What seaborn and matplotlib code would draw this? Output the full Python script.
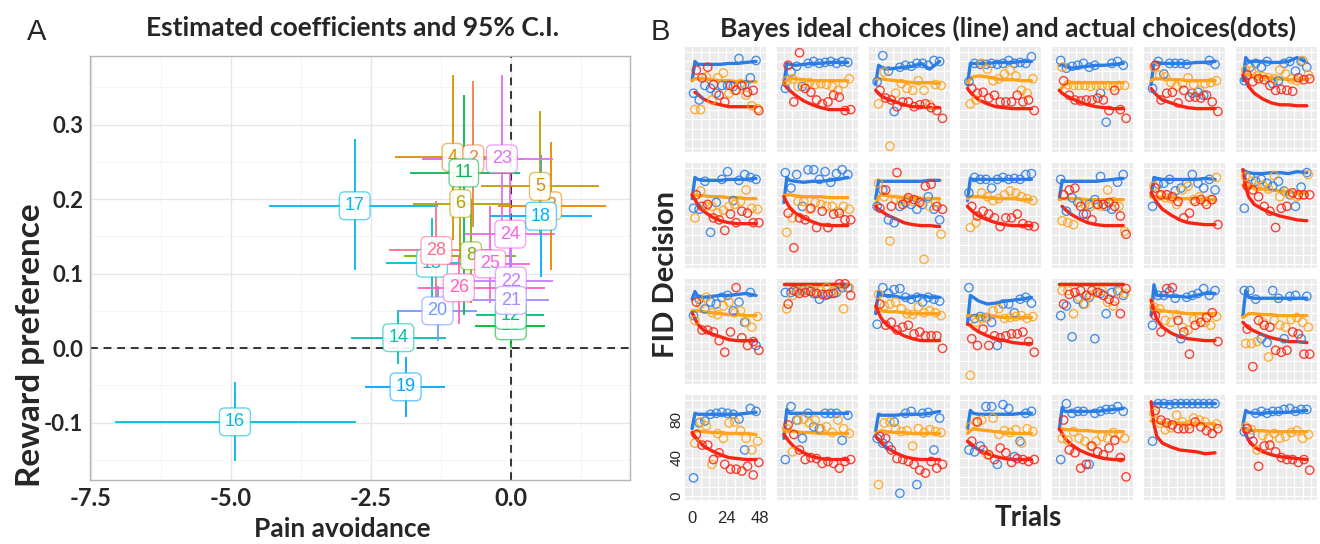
import numpy as np
import matplotlib.pyplot as plt
import seaborn as sns

nan = np.nan

# ---------------- panel A: coefficients and 95% C.I. ----------------
SUBJECTS = ["16", "17", "19", "14", "20", "15", "28", "8", "26", "25", "24",
            "10", "12", "22", "21", "3", "18", "5", "4", "2", "23", "11", "6"]
PAIN = [-4.93, -2.79, -1.88, -2.01, -1.31, -1.41, -1.33, -0.71, -0.93, -0.37, -0.01,
        0.0, 0.0, 0.0, 0.0, 0.72, 0.54, 0.52, -1.04, -0.67, -0.16, -0.84, -0.90]
PAIN_LO = [-7.08, -4.33, -2.60, -2.86, -2.03, -2.23, -2.18, -1.90, -1.66, -1.15, -0.82,
           -0.64, -0.63, -0.78, -1.08, -0.23, -0.38, -0.53, -2.07, -1.59, -1.59, -1.81, -1.74]
PAIN_HI = [-2.76, -1.30, -1.17, -1.15, -0.60, -0.90, -0.34, 0.10, 0.61, 0.35, 0.79,
           0.61, 0.60, 0.75, 0.68, 1.71, 1.45, 1.58, 0.13, 0.24, 0.75, 0.17, -0.01]
REWARD = [-0.099, 0.191, -0.052, 0.014, 0.050, 0.114, 0.131, 0.124, 0.081, 0.113, 0.153,
          0.030, 0.044, 0.090, 0.064, 0.191, 0.177, 0.217, 0.256, 0.254, 0.254, 0.235, 0.194]
REWARD_LO = [-0.151, 0.105, -0.093, -0.021, 0.009, 0.050, 0.061, 0.060, 0.033, 0.061, 0.070,
             0.000, 0.010, 0.030, 0.010, 0.105, 0.096, 0.154, 0.145, 0.163, 0.150, 0.045, 0.120]
REWARD_HI = [-0.045, 0.280, -0.012, 0.051, 0.084, 0.175, 0.198, 0.200, 0.125, 0.191, 0.240,
             0.070, 0.090, 0.160, 0.120, 0.277, 0.259, 0.318, 0.366, 0.359, 0.366, 0.340, 0.270]

# ---------------- panel B: Bayes ideal vs actual choices ----------------
LINE_X = [0, 2, 4, 8, 14, 20, 26, 32, 38, 45]
BLUE_DOT_X = [1, 5, 9, 13, 17, 21, 25, 29, 33, 37, 41, 45]
ORANGE_DOT_X = [2, 6, 10, 14, 18, 22, 26, 30, 34, 38, 42, 46]
RED_DOT_X = [3, 7, 11, 15, 19, 23, 27, 31, 35, 39, 43, 47]

BLUE_LINE = [
    [70, 90, 87, 87, 87, 87, 88, 88, 89, 90], [66, 88, 87, 86, 87, 88, 88, 89, 89, 89],
    [67, 86, 84, 82, 83, 84, 85, 88, 82, 90], [66, 88, 88, 88, 88, 89, 89, 89, 90, 90],
    [86, 87, 85, 83, 84, 85, 86, 86, 87, 88], [66, 89, 89, 88, 88, 88, 88, 89, 89, 90],
    [70, 94, 90, 90, 90, 89, 89, 90, 94, 89],
    [68, 90, 88, 87, 87, 87, 88, 88, 88, 89], [64, 90, 87, 86, 85, 86, 86, 87, 88, 90],
    [68, 87, 86, 86, 86, 86, 86, 86, 87, 87], [66, 89, 88, 88, 88, 88, 88, 88, 88, 88],
    [68, 87, 86, 86, 86, 86, 86, 87, 88, 89], [70, 90, 89, 88, 88, 88, 88, 88, 89, 88],
    [98, 96, 95, 94, 94, 95, 95, 94, 96, 95],
    [84, 92, 87, 86, 87, 88, 88, 89, 90, 88], [100, 100, 100, 100, 100, 100, 100, 100, 100, 100],
    [69, 92, 88, 88, 87, 85, 86, 88, 86, 86], [58, 88, 86, 82, 79, 80, 82, 83, 84, 86],
    [100, 100, 100, 100, 100, 100, 100, 100, 100, 100], [67, 99, 88, 88, 87, 87, 86, 88, 90, 90],
    [67, 93, 86, 85, 85, 85, 85, 85, 85, 85],
    [70, 86, 85, 85, 85, 85, 85, 85, 86, 87], [60, 90, 86, 86, 86, 86, 86, 86, 86, 86],
    [68, 85, 84, 84, 84, 85, 85, 85, 86, 88], [70, 89, 86, 85, 85, 85, 85, 85, 86, 86],
    [69, 92, 88, 88, 88, 88, 88, 89, 90, 91], [97, 97, 97, 97, 97, 97, 97, 97, 97, 97],
    [74, 89, 87, 86, 86, 87, 87, 87, 88, 89],
]
ORANGE_LINE = [
    [70, 72, 72, 72, 71, 70, 70, 69, 69, 69], [67, 70, 72, 72, 71, 70, 70, 70, 70, 70],
    [72, 72, 72, 71, 70, 69, 68, 68, 68, 67], [68, 72, 74, 75, 74, 72, 71, 71, 70, 70],
    [60, 63, 66, 68, 68, 68, 68, 68, 68, 68], [70, 72, 72, 72, 71, 71, 70, 70, 70, 70],
    [76, 76, 76, 75, 74, 73, 72, 71, 71, 71],
    [72, 72, 71, 71, 70, 70, 69, 69, 68, 68], [71, 72, 72, 71, 70, 70, 70, 69, 69, 69],
    [60, 70, 72, 71, 70, 69, 69, 68, 68, 68], [68, 70, 70, 70, 69, 68, 68, 68, 67, 67],
    [67, 68, 68, 68, 68, 67, 67, 67, 67, 67], [70, 70, 70, 69, 69, 68, 68, 68, 67, 67],
    [82, 81, 80, 79, 78, 77, 76, 75, 74, 74],
    [72, 72, 72, 71, 70, 69, 68, 68, 67, 67], [100, 100, 100, 100, 100, 100, 100, 100, 100, 100],
    [74, 73, 72, 71, 71, 70, 69, 69, 69, 69], [67, 67, 67, 67, 66, 66, 65, 65, 65, 65],
    [100, 100, 100, 100, 100, 100, 100, 100, 100, 100], [84, 76, 73, 72, 71, 70, 69, 69, 69, 69],
    [65, 67, 69, 69, 68, 68, 67, 67, 67, 67],
    [64, 67, 68, 67, 66, 66, 65, 65, 65, 64], [69, 68, 68, 67, 66, 66, 65, 65, 65, 65],
    [65, 67, 68, 67, 66, 66, 65, 65, 65, 65], [65, 68, 70, 69, 68, 67, 66, 65, 65, 65],
    [70, 70, 69, 69, 68, 68, 67, 67, 67, 67], [78, 77, 77, 76, 76, 76, 75, 75, 75, 75],
    [70, 70, 69, 68, 68, 67, 67, 67, 67, 67],
]
RED_LINE = [
    [nan, 58, 56, 51, 47, 45, 43, 43, 43, 43], [67, 63, 60, 55, 49, 45, 42, 40, 40, 40],
    [60, 57, 54, 51, 48, 45, 43, 43, 42, 42], [62, 58, 55, 50, 46, 43, 42, 41, 41, 41],
    [60, 57, 55, 52, 48, 45, 43, 42, 41, 41], [62, 58, 55, 50, 47, 44, 42, 41, 41, 41],
    [76, 70, 64, 57, 51, 47, 45, 45, 44, 44],
    [72, 67, 62, 55, 49, 45, 43, 42, 42, 42], [70, 64, 59, 53, 48, 44, 41, 40, 40, 40],
    [60, 57, 55, 51, 47, 43, 41, 40, 40, 39], [60, 57, 54, 50, 46, 43, 41, 40, 40, 40],
    [nan, 60, 57, 52, 47, 43, 41, 40, 40, 40], [74, 69, 64, 57, 51, 46, 43, 42, 41, 41],
    [98, 80, 70, 62, 57, 53, 50, 48, 46, 45],
    [70, 64, 58, 52, 48, 45, 42, 41, 41, 41], [100, 100, 100, 100, 100, 100, 100, 100, 100, 100],
    [77, 70, 64, 57, 51, 46, 43, 41, 41, 41], [58, 57, 54, 50, 46, 43, 41, 39, 38, 38],
    [100, 100, 100, 100, 100, 100, 100, 100, 100, 100], [83, 72, 63, 55, 49, 45, 43, 42, 41, 41],
    [60, 57, 54, 51, 47, 44, 42, 40, 40, 39],
    [66, 62, 58, 52, 47, 43, 40, 39, 38, 38], [64, 60, 56, 50, 45, 41, 39, 38, 38, 38],
    [62, 59, 55, 50, 45, 41, 39, 38, 38, 38], [57, 55, 52, 48, 44, 41, 39, 38, 38, 38],
    [70, 65, 60, 54, 48, 44, 41, 39, 38, 38], [98, 75, 62, 55, 51, 48, 47, 46, 44, 45],
    [70, 64, 58, 51, 46, 43, 41, 40, 39, 38],
]
BLUE_DOTS = [
    [57, 50, 65, 62, 57, 65, 65, 64, 93, 66, 73, 91], [62, 79, 85, 64, 88, 90, 88, 89, 90, 88, 90, 89],
    [69, 96, 80, 38, 84, 86, 85, 88, 88, 86, 91, 90], [69, 88, 87, 87, 88, 87, 88, 91, 88, 89, 88, 95],
    [91, 83, 85, 86, 88, 84, 86, 57, 27, 88, 90, 86], [62, 90, 77, 88, 88, 88, 87, 57, 58, 55, 91, 87],
    [70, 84, 88, 84, 90, 67, 70, 88, 90, 80, 90, 84],
    [58, 57, 86, 33, 64, 88, 96, 66, 87, 93, 90, 88], [95, 79, 93, 60, 98, 98, 88, 96, 85, 94, 98, 93],
    [60, 77, 46, 43, 60, 64, 62, 57, 62, 70, 57, 46], [74, 90, 88, 88, 79, 88, 90, 88, 89, 88, 93, 94],
    [88, 55, 69, 64, 52, 62, 67, 91, 60, 57, 85, 93], [60, 83, 84, 88, 76, 79, 84, 93, 84, 79, 88, 77],
    [58, 91, 86, 88, 84, 81, 86, 76, 72, 60, 80, 95],
    [67, 84, 74, 81, 79, 86, 88, 72, 81, 60, 91, 36], [91, 91, 92, 93, 93, 90, 84, 88, 90, 91, 96, 96],
    [58, 96, 90, 94, 95, 86, 84, 86, 81, 86, 84, 82], [96, 64, 66, 65, 60, 36, 79, 79, 70, 84, 86, 80],
    [67, 77, 45, 84, 79, 86, 43, 90, 69, 91, 93, 88], [57, 88, 88, 92, 85, 43, 86, 88, 90, 95, 88, 93],
    [93, 93, 84, 43, 39, 93, 85, 43, 87, 88, 43, 87],
    [19, 76, 78, 85, 86, 87, 86, 85, 80, 48, 91, 88], [38, 93, 79, 60, 86, 72, 70, 86, 86, 86, 58, 84],
    [60, 55, 52, 77, 3, 86, 88, 12, 86, 87, 48, 81], [48, 46, 52, 93, 93, 33, 95, 91, 41, 57, 86, 88],
    [38, 96, 86, 88, 88, 33, 86, 88, 90, 90, 93, 88], [57, 96, 96, 95, 96, 96, 96, 96, 96, 96, 96, 96],
    [67, 64, 86, 88, 86, 88, 88, 90, 91, 88, 90, 90],
]
ORANGE_DOTS = [
    [40, 40, 74, 50, 73, 78, 57, 60, 67, 55, 44, 41], [70, 72, 64, 67, 68, 66, 67, 66, 64, 60, 67, 72],
    [46, 79, 2, 57, 67, 62, 60, 70, 60, 45, 66, 65], [46, 50, 88, 82, 70, 72, 77, 81, 75, 60, 57, 72],
    [84, 66, 65, 65, 65, 64, 65, 65, 65, 64, 65, 65], [84, 76, 74, 68, 64, 67, 73, 66, 60, 67, 68, 70],
    [81, 80, 75, 74, 73, 72, 81, 77, 72, 70, 91, 76],
    [48, 76, 60, 60, 53, 56, 60, 62, 65, 77, 58, 57], [33, 48, 65, 65, 57, 64, 62, 60, 60, 55, 60, 57],
    [84, 70, 24, 67, 66, 67, 65, 66, 5, 60, 64, 31], [38, 43, 74, 70, 66, 68, 72, 76, 74, 70, 68, 66],
    [45, 43, 41, 64, 62, 60, 62, 60, 77, 65, 60, 34], [81, 71, 69, 68, 62, 77, 81, 67, 70, 65, 67, 90],
    [91, 86, 80, 82, 78, 92, 70, 75, 72, 70, 72, 93],
    [62, 79, 86, 70, 68, 77, 81, 70, 72, 60, 55, 66], [74, 88, 92, 93, 94, 92, 93, 96, 92, 94, 74, 96],
    [89, 77, 79, 81, 74, 69, 68, 76, 70, 72, 70, 67], [5, 60, 64, 65, 72, 74, 64, 65, 66, 67, 64, 66],
    [93, 93, 69, 86, 79, 88, 91, 93, 81, 77, 92, 90], [76, 74, 62, 60, 68, 55, 52, 63, 65, 60, 57, 66],
    [38, 38, 40, 60, 24, 62, 57, 55, 63, 65, 60, 55],
    [55, 77, 73, 33, 65, 60, 76, 77, 68, 60, 48, 57], [70, 46, 79, 80, 76, 79, 70, 72, 66, 79, 70, 65],
    [12, 76, 77, 70, 67, 68, 52, 70, 66, 69, 67, 66], [72, 77, 79, 43, 81, 64, 68, 66, 69, 55, 70, 67],
    [60, 58, 67, 60, 57, 52, 57, 62, 60, 66, 64, 60], [86, 76, 69, 71, 84, 77, 74, 81, 79, 77, 72, 75],
    [72, 69, 48, 63, 60, 65, 60, 62, 66, 68, 60, 64],
]
RED_DOTS = [
    [81, 73, 84, 66, 55, 48, 65, 60, 65, 58, 60, 39], [86, 48, 99, 62, 58, 50, 46, 48, 55, 53, 39, 40],
    [60, 52, 50, 43, 48, 48, 43, 45, 46, 42, 39, 31], [62, 57, 58, 52, 55, 48, 48, 48, 55, 48, 50, 39],
    [70, 55, 50, 49, 50, 50, 52, 50, 39, 60, 40, 31], [86, 50, 57, 58, 47, 60, 53, 53, 52, 55, 48, 38],
    [76, 69, 72, 71, 65, 60, 61, 60, 59, 73, 71, 72],
    [72, 60, 62, 48, 46, 35, 52, 43, 55, 53, 43, 43], [53, 17, 48, 46, 58, 38, 55, 38, 52, 53, 46, 46],
    [58, 77, 60, 95, 62, 69, 67, 64, 81, 83, 60, 57], [60, 50, 55, 52, 48, 39, 48, 48, 52, 42, 40, 39],
    [72, 77, 79, 60, 52, 46, 62, 62, 64, 60, 50, 31], [79, 72, 72, 70, 65, 48, 53, 65, 67, 62, 67, 41],
    [81, 77, 70, 60, 55, 38, 58, 60, 74, 72, 72, 72],
    [81, 52, 52, 50, 41, 29, 50, 96, 44, 36, 40, 31], [79, 93, 90, 91, 92, 90, 89, 89, 90, 100, 100, 88],
    [79, 57, 60, 52, 55, 57, 48, 50, 46, 46, 46, 33], [43, 36, 53, 36, 46, 44, 46, 48, 48, 50, 40, 29],
    [79, 89, 91, 93, 88, 93, 91, 88, 84, 82, 69, 95], [67, 50, 95, 96, 62, 50, 27, 57, 60, 65, 70, 40],
    [53, 14, 62, 57, 55, 31, 29, 31, 50, 48, 27, 27],
    [64, 53, 53, 38, 45, 33, 28, 28, 26, 31, 22, 35], [74, 64, 48, 38, 40, 39, 34, 36, 34, 29, 36, 38],
    [62, 60, 48, 39, 38, 36, 33, 27, 24, 36, 29, 33], [57, 77, 48, 43, 38, 50, 45, 35, 39, 38, 36, 38],
    [79, 48, 45, 29, 33, 52, 46, 43, 50, 58, 40, 20], [89, 79, 76, 74, 70, 70, 70, 77, 72, 68, 65, 70],
    [70, 57, 31, 52, 53, 46, 40, 38, 38, 35, 38, 27],
]

BLUE = "#2b7de6"
ORANGE = "#ffa31a"
RED = "#fa2414"


def hcl(h, c=100, l=65):
    # ggplot2 style hue colour (polar Luv -> sRGB)
    h = np.deg2rad(h)
    u, v = c * np.cos(h), c * np.sin(h)
    Y = ((l + 16) / 116) ** 3
    up = u / (13 * l) + 0.1978398
    vp = v / (13 * l) + 0.4683363
    X = Y * 9 * up / (4 * vp)
    Z = Y * (12 - 3 * up - 20 * vp) / (4 * vp)
    M = np.array([[3.2404542, -1.5371385, -0.4985314],
                  [-0.9692660, 1.8760108, 0.0415560],
                  [0.0556434, -0.2040259, 1.0572252]])
    rgb = M @ np.array([X, Y, Z])
    rgb = np.where(rgb <= 0.0031308, 12.92 * rgb, 1.055 * np.abs(rgb) ** (1 / 2.4) - 0.055)
    return tuple(np.clip(rgb, 0, 1))


sns.set_theme(style="white")
plt.rcParams["font.family"] = ["Lato", "DejaVu Sans"]

W, H = 1320, 544
fig = plt.figure(figsize=(W / 100, H / 100), dpi=100)


def box(px, py, pw, ph):
    return [px / W, 1 - (py + ph) / H, pw / W, ph / H]


# ---------- A ----------
ax = fig.add_axes(box(90, 56, 540, 424))
ax.set_facecolor("white")
ax.set_xlim(-7.52, 2.13)
ax.set_ylim(-0.177, 0.392)
ax.set_xticks([-7.5, -5.0, -2.5, 0.0])
ax.set_xticks([-6.25, -3.75, -1.25, 1.25], minor=True)
ax.set_yticks([-0.1, 0.0, 0.1, 0.2, 0.3])
ax.set_yticks([-0.15, -0.05, 0.05, 0.15, 0.25, 0.35], minor=True)
ax.set_xticklabels(["-7.5", "-5.0", "-2.5", "0.0"], fontsize=17, fontweight="bold")
ax.set_yticklabels(["-0.1", "0.0", "0.1", "0.2", "0.3"], fontsize=16, fontweight="bold")
ax.grid(True, which="major", color="#e6e6e6", lw=1.0)
ax.grid(True, which="minor", color="#f3f3f3", lw=0.6)
ax.set_axisbelow(True)
ax.tick_params(which="major", length=3, width=0.8, color="#444444", pad=2)
ax.tick_params(which="minor", length=0)
for s in ax.spines.values():
    s.set_color("#b5b5b5")
    s.set_linewidth(1.0)

ax.axhline(0, color="#333333", lw=1.4, ls=(0, (4, 3)), zorder=1)
ax.axvline(0, color="#333333", lw=1.4, ls=(0, (4, 3)), zorder=1)

cols = [hcl(15 + 360 * (int(s) - 1) / 28) for s in SUBJECTS]
for i, s in enumerate(SUBJECTS):
    ax.errorbar(PAIN[i], REWARD[i],
                xerr=[[PAIN[i] - PAIN_LO[i]], [PAIN_HI[i] - PAIN[i]]],
                yerr=[[REWARD[i] - REWARD_LO[i]], [REWARD_HI[i] - REWARD[i]]],
                fmt="none", ecolor=cols[i], elinewidth=1.3, capsize=0, zorder=2)
for i, s in enumerate(SUBJECTS):
    ax.text(PAIN[i], REWARD[i], s, ha="center", va="center", fontsize=13,
            family="Liberation Sans", color=cols[i], zorder=3 + i,
            bbox=dict(boxstyle="round,pad=0.3,rounding_size=0.3",
                      fc=(1, 1, 1, 0.92), ec=cols[i] + (0.6,), lw=1.0))

ax.set_xlabel("")
ax.set_ylabel("")
fig.text(31 / W, 1 - 345 / H, "Reward preference", rotation=90, ha="center", va="center",
         fontsize=24, fontweight="bold")
fig.text(342 / W, 1 - 529 / H, "Pain avoidance", ha="center", va="center",
         fontsize=19, fontweight="bold")
fig.text(352 / W, 1 - 28 / H, "Estimated coefficients and 95% C.I.", ha="center",
         va="center", fontsize=19, fontweight="bold")
fig.text(37 / W, 1 - 32 / H, "A", ha="center", va="center", fontsize=21,
         family="Liberation Sans")

# ---------- B ----------
for k in range(28):
    r, c = divmod(k, 7)
    a = fig.add_axes(box(685 + 91.8 * c, 47 + 116 * r, 81, 105))
    a.set_facecolor("#ebebeb")
    a.set_xlim(-5, 52)
    a.set_ylim(-4, 105)
    a.set_xticks(range(0, 49, 6))
    a.set_yticks(range(0, 101, 10))
    a.grid(True, color="white", lw=0.9)
    a.set_axisbelow(True)
    for s in a.spines.values():
        s.set_visible(False)
    a.tick_params(length=0, labelleft=False, labelbottom=False)

    sns.lineplot(x=LINE_X, y=BLUE_LINE[k], ax=a, color=BLUE, lw=2.4, estimator=None, sort=False)
    sns.lineplot(x=LINE_X, y=ORANGE_LINE[k], ax=a, color=ORANGE, lw=2.4, estimator=None, sort=False)
    sns.lineplot(x=LINE_X, y=RED_LINE[k], ax=a, color=RED, lw=2.4, estimator=None, sort=False)
    sns.scatterplot(x=BLUE_DOT_X, y=BLUE_DOTS[k], ax=a, s=36, marker="o",
                    fc="none", ec=BLUE, linewidth=1.0, alpha=0.85, zorder=4)
    sns.scatterplot(x=ORANGE_DOT_X, y=ORANGE_DOTS[k], ax=a, s=36, marker="o",
                    fc="none", ec=ORANGE, linewidth=1.0, alpha=0.85, zorder=4)
    sns.scatterplot(x=RED_DOT_X, y=RED_DOTS[k], ax=a, s=36, marker="o",
                    fc="none", ec=RED, linewidth=1.0, alpha=0.85, zorder=4)
    a.set_xlabel("")
    a.set_ylabel("")
    if k == 21:
        for xv, lab in [(0, "0"), (24, "24"), (48, "48")]:
            a.text(xv, -23, lab, ha="center", va="center", fontsize=12,
                   family="Liberation Sans", clip_on=False)
        for yv, lab in [(0, "0"), (40, "40"), (80, "80")]:
            a.text(-11, yv, lab, ha="center", va="center", rotation=90, fontsize=11,
                   family="Liberation Sans", clip_on=False)

fig.text(1008 / W, 1 - 28 / H, "Bayes ideal choices (line) and actual choices(dots)",
         ha="center", va="center", fontsize=19, fontweight="bold")
fig.text(660 / W, 1 - 32 / H, "B", ha="center", va="center", fontsize=21,
         family="Liberation Sans")
fig.text(666 / W, 1 - 275 / H, "FID Decision", rotation=90, ha="center", va="center",
         fontsize=21, fontweight="bold")
fig.text(1028 / W, 1 - 518 / H, "Trials", ha="center", va="center",
         fontsize=20, fontweight="bold")

fig.savefig("out.png", dpi=100)
